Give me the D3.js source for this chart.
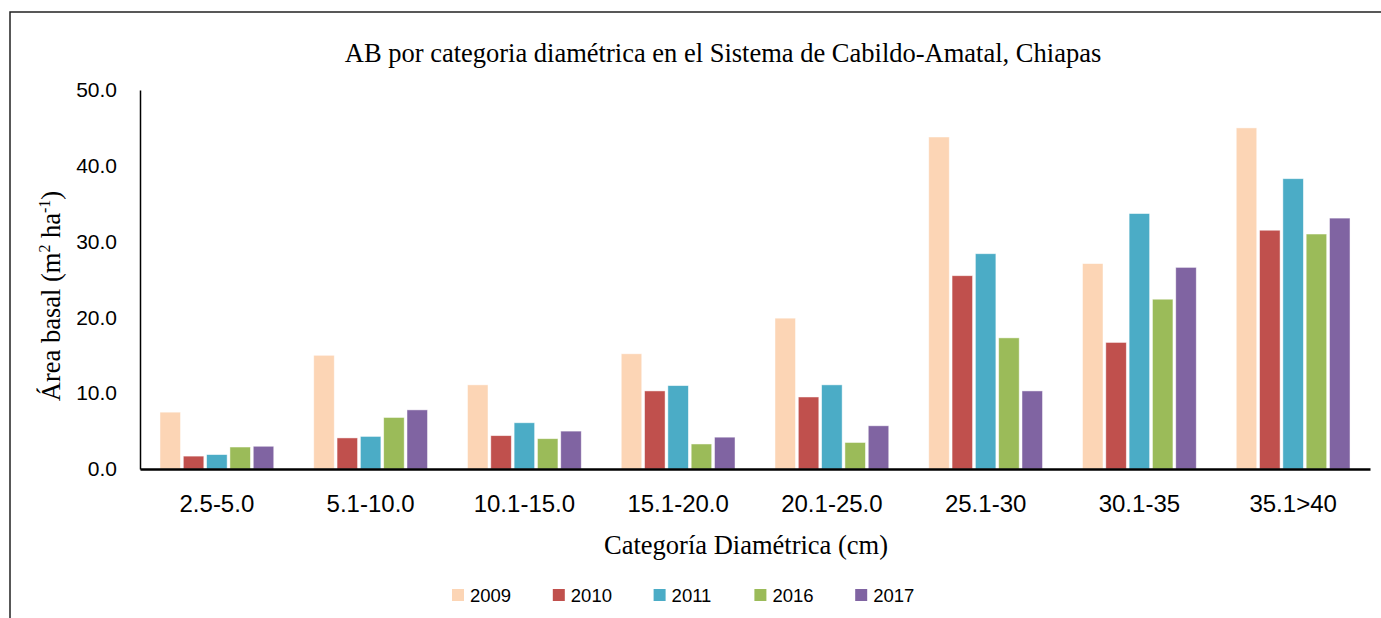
<!DOCTYPE html>
<html>
<head>
<meta charset="utf-8">
<script src="https://cdn.jsdelivr.net/npm/d3@7"></script>
<style>
  body { margin: 0; background: #fff; }
  svg { display: block; }
</style>
</head>
<body>
<script>
// Data
const categories = ["2.5-5.0", "5.1-10.0", "10.1-15.0", "15.1-20.0", "20.1-25.0", "25.1-30", "30.1-35", "35.1>40"];
const years = ["2009", "2010", "2011", "2016", "2017"];
const v2009 = [7.5, 15.0, 11.1, 15.2, 19.9, 43.8, 27.1, 45.0];
const v2010 = [1.7, 4.1, 4.4, 10.3, 9.5, 25.5, 16.7, 31.5];
const v2011 = [1.9, 4.3, 6.1, 11.0, 11.1, 28.4, 33.7, 38.3];
const v2016 = [2.9, 6.8, 4.0, 3.3, 3.5, 17.3, 22.4, 31.0];
const v2017 = [3.0, 7.8, 5.0, 4.2, 5.7, 10.3, 26.6, 33.1];
const yTicks = [0, 10, 20, 30, 40, 50];
const colors = ["#FCD5B5", "#C0504D", "#4BACC6", "#9BBB59", "#8064A2"];

const series = [v2009, v2010, v2011, v2016, v2017];
const rows = categories.map((c, i) => ({cat: c, vals: years.map((y, j) => ({year: y, value: series[j][i]}))}));

const width = 1381, height = 618;
const margin = {top: 90, right: 11, bottom: 149, left: 140};
const w = width - margin.left - margin.right;
const h = height - margin.top - margin.bottom;

const serif = "'Liberation Serif', 'Times New Roman', serif";
const sans = "'Liberation Sans', Arial, sans-serif";

const svg = d3.select("body").append("svg").attr("width", width).attr("height", height);

// outer frame
svg.append("rect")
   .attr("x", 10).attr("y", 12)
   .attr("width", width + 20).attr("height", height + 20)
   .attr("fill", "none").attr("stroke", "#222").attr("stroke-width", 1.5);

// title
svg.append("text")
   .attr("x", 723).attr("y", 62)
   .attr("text-anchor", "middle")
   .style("font-family", serif)
   .style("font-size", "26.5px")
   .text("AB por categoria diamétrica en el Sistema de Cabildo-Amatal, Chiapas");

const g = svg.append("g").attr("transform", `translate(${margin.left},${margin.top})`);

// Scales
const x0 = d3.scaleBand().domain(categories).range([0, w]).paddingInner(0.26).paddingOuter(0.13);
const x1 = d3.scaleBand().domain(years).range([0, x0.bandwidth()]).paddingInner(0.12);
const y = d3.scaleLinear().domain([0, 50]).range([h, 0]);
const color = d3.scaleOrdinal().domain(years).range(colors);

// bars
g.selectAll("g.cat")
 .data(rows)
 .enter().append("g")
 .attr("class", "cat")
 .attr("transform", d => `translate(${x0(d.cat)},0)`)
 .selectAll("rect")
 .data(d => d.vals)
 .enter().append("rect")
 .attr("x", d => x1(d.year))
 .attr("y", d => y(d.value))
 .attr("width", x1.bandwidth())
 .attr("height", d => h - y(d.value))
 .attr("fill", d => color(d.year))
 .attr("stroke", "rgba(255,255,255,0.6)")
 .attr("stroke-width", 0.8);

// y axis
const yAxis = g.append("g")
  .call(d3.axisLeft(y).tickValues(yTicks).tickFormat(d3.format(".1f")).tickSize(0).tickPadding(23));
yAxis.select(".domain").attr("stroke", "#000").attr("stroke-width", 1.5);
yAxis.selectAll("text")
     .style("font-family", sans)
     .style("font-size", "21px")
     .attr("fill", "#000");

// x axis
const xAxis = g.append("g")
  .attr("transform", `translate(0,${h})`)
  .call(d3.axisBottom(x0).tickSize(0).tickPadding(26));
xAxis.select(".domain").attr("stroke", "#000").attr("stroke-width", 2.5);
xAxis.selectAll("text")
     .style("font-family", sans)
     .style("font-size", "24px")
     .attr("fill", "#000");

// axis titles
svg.append("text")
   .attr("transform", "translate(60,296) rotate(-90)")
   .attr("text-anchor", "middle")
   .style("font-family", serif)
   .style("font-size", "26.5px")
   .html("Área basal (m<tspan dy='-10' font-size='16px'>2</tspan><tspan dy='10'>  ha</tspan><tspan dy='-10' font-size='16px'>-1</tspan><tspan dy='10'>)</tspan>");

svg.append("text")
   .attr("x", 746).attr("y", 554)
   .attr("text-anchor", "middle")
   .style("font-family", serif)
   .style("font-size", "26.5px")
   .text("Categoría Diamétrica (cm)");

// legend
const legend = svg.append("g").attr("transform", "translate(452,589)");
const item = legend.selectAll("g")
  .data(years)
  .enter().append("g")
  .attr("transform", (d, i) => `translate(${i * 100.8},0)`);
item.append("rect").attr("width", 12).attr("height", 12).attr("fill", d => color(d));
item.append("text")
    .attr("x", 18).attr("y", 13)
    .style("font-family", sans)
    .style("font-size", "18.5px")
    .text(d => d);
</script>
</body>
</html>
